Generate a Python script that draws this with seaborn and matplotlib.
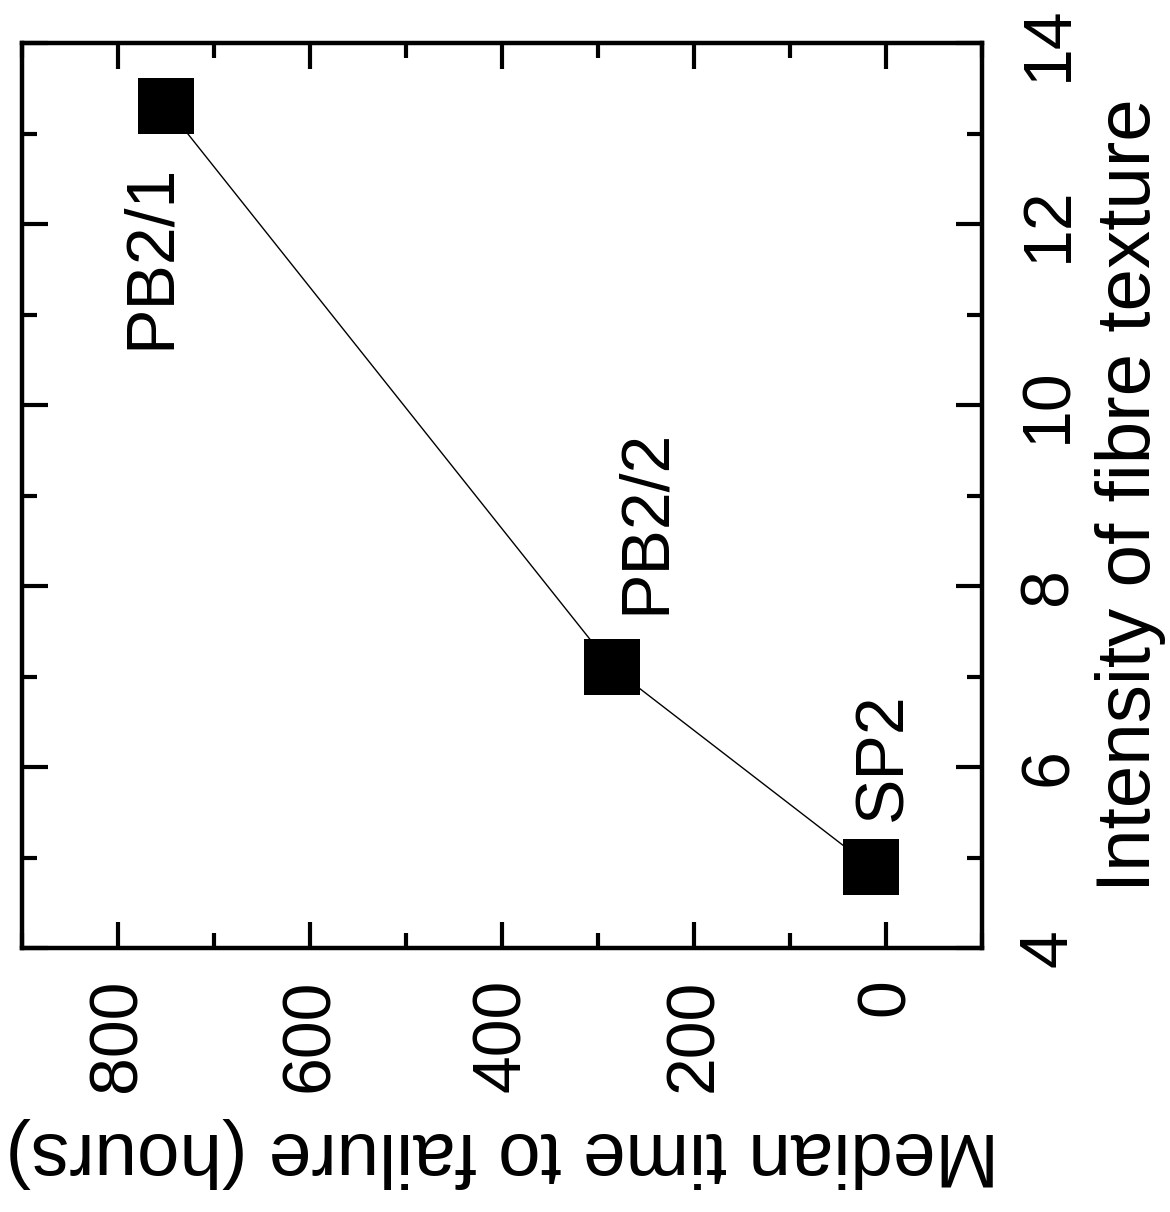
import matplotlib
matplotlib.use("Agg")
import matplotlib.pyplot as plt
import seaborn as sns
import pandas as pd
from matplotlib.ticker import MultipleLocator

# ---- data ----
samples = ["SP2", "PB2/2", "PB2/1"]
median_time_hours = [16, 285, 750]
fibre_texture_intensity = [4.9, 7.1, 13.3]
time_ticks = [0, 200, 400, 600, 800]
intensity_ticks = [4, 6, 8, 10, 12, 14]

df = pd.DataFrame({
    "sample": samples,
    "time": median_time_hours,
    "intensity": fibre_texture_intensity,
})

# label offsets (points) relative to each marker
label_offsets = [(9, 79), (24, 105), (-11, -108)]

sns.set_theme(style="white")
plt.rcParams["font.family"] = ["Liberation Sans", "DejaVu Sans"]

FS = 49
FS_LABEL = 55
fig = plt.figure(figsize=(11.7, 12.12), dpi=100)
ax = fig.add_axes([0.0188, 0.2178, 0.8205, 0.7467])

sns.lineplot(
    data=df, x="time", y="intensity", sort=False, estimator=None,
    color="black", linewidth=1.0, marker="s", markersize=40,
    markeredgewidth=0, markeredgecolor="black", markerfacecolor="black",
    ax=ax,
)

for name, t, i, (dx, dy) in zip(samples, median_time_hours,
                                fibre_texture_intensity, label_offsets):
    ax.annotate(name, (t, i), xytext=(dx, dy), textcoords="offset points",
                rotation=90, ha="center", va="center", fontsize=FS,
                color="black")

ax.set_xlim(900, -100)
ax.set_ylim(4, 14)
ax.set_xticks(time_ticks)
ax.set_xticklabels([str(v) for v in time_ticks])
ax.xaxis.set_minor_locator(MultipleLocator(100))
ax.set_yticks(intensity_ticks)
ax.set_yticklabels([str(v) for v in intensity_ticks])
ax.yaxis.set_minor_locator(MultipleLocator(1))

ax.tick_params(which="both", direction="in", top=True, bottom=True,
               left=True, right=True, labelleft=False, labelright=True,
               labeltop=False, labelbottom=True, width=3, color="black",
               labelcolor="black")
ax.tick_params(which="major", length=19)
ax.tick_params(which="minor", length=11)
ax.tick_params(axis="x", labelsize=FS, pad=22, labelrotation=90)
ax.tick_params(axis="y", labelsize=FS, pad=25, labelrotation=90)
for tick in ax.yaxis.get_major_ticks():
    tick.label2.set_verticalalignment("center")

for s in ax.spines.values():
    s.set_linewidth(3.2)
    s.set_color("black")
    s.set_visible(True)

ax.set_xlabel("Median time to failure (hours)", fontsize=FS_LABEL,
              rotation=180, labelpad=18, color="black")
ax.yaxis.set_label_position("right")
ax.set_ylabel("Intensity of fibre texture", fontsize=FS_LABEL, labelpad=10,
              color="black")

fig.savefig("out.png", dpi=100, facecolor="white")
